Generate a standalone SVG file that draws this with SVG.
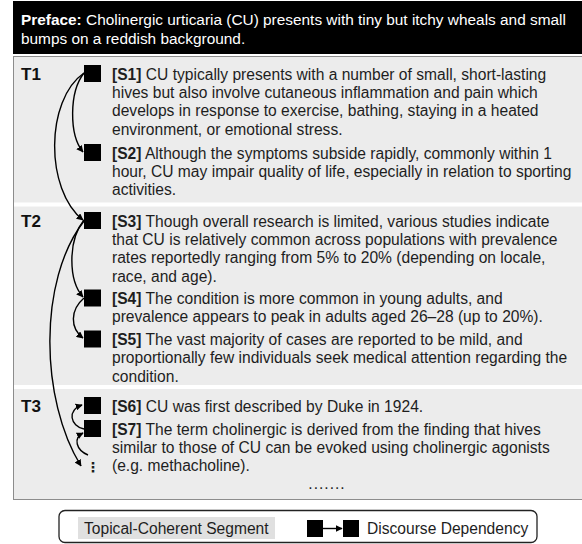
<svg xmlns="http://www.w3.org/2000/svg" width="582" height="544" viewBox="0 0 582 544">
<defs>
<style>
.t{font-family:"Liberation Sans",Arial,Helvetica,sans-serif;font-size:15.6px;fill:#1e1e1e}
.b{font-weight:bold}
.h{font-family:"Liberation Sans",Arial,Helvetica,sans-serif;font-size:15.4px;fill:#fff}
.lab{font-family:"Liberation Sans",Arial,Helvetica,sans-serif;font-size:17px;font-weight:bold;fill:#111}
.sq{fill:#000}
.c{fill:none;stroke:#000;stroke-width:1.4}
.sep{stroke:#fff;stroke-width:4}
</style>
<marker id="ah" viewBox="0 0 10 10" refX="9" refY="5" markerWidth="5" markerHeight="5" orient="auto" markerUnits="strokeWidth">
<path d="M0,0 L10,5 L0,10 z" fill="#000"/>
</marker>
</defs>
<rect width="582" height="544" fill="#fff"/>

<g id="preface">
<rect x="13" y="1" width="570" height="53" fill="#000"/>
<text class="h" x="21" y="25"><tspan class="b">Preface:</tspan> Cholinergic urticaria (CU) presents with tiny but itchy wheals and small</text>
<text class="h" x="21" y="43.5">bumps on a reddish background.</text>
</g>

<g id="segments">
<rect x="13.5" y="56.5" width="570" height="443" fill="#ececec" stroke="#8c8c8c" stroke-width="1"/>
<line class="sep" x1="14" y1="204.5" x2="582" y2="204.5"/>
<line class="sep" x1="14" y1="387" x2="582" y2="387"/>
<text class="lab" x="21" y="80">T1</text>
<text class="lab" x="21" y="227">T2</text>
<text class="lab" x="21" y="412">T3</text>
</g>

<g id="S1">
<rect class="sq" x="84" y="65" width="17" height="17"/>
<text class="t" x="112" y="79.5"><tspan class="b">[S1]</tspan> CU typically presents with a number of small, short-lasting</text>
<text class="t" x="112" y="97.9">hives but also involve cutaneous inflammation and pain which</text>
<text class="t" x="112" y="116.3">develops in response to exercise, bathing, staying in a heated</text>
<text class="t" x="112" y="134.7">environment, or emotional stress.</text>
</g>
<g id="S2">
<rect class="sq" x="84" y="144" width="17" height="17"/>
<text class="t" x="112" y="158.5"><tspan class="b">[S2]</tspan> Although the symptoms subside rapidly, commonly within 1</text>
<text class="t" x="112" y="176.9">hour, CU may impair quality of life, especially in relation to sporting</text>
<text class="t" x="112" y="195.3">activities.</text>
</g>
<g id="S3">
<rect class="sq" x="84" y="212" width="17" height="17"/>
<text class="t" x="112" y="226.5"><tspan class="b">[S3]</tspan> Though overall research is limited, various studies indicate</text>
<text class="t" x="112" y="244.9">that CU is relatively common across populations with prevalence</text>
<text class="t" x="112" y="263.3">rates reportedly ranging from 5% to 20% (depending on locale,</text>
<text class="t" x="112" y="281.7">race, and age).</text>
</g>
<g id="S4">
<rect class="sq" x="84" y="289.5" width="17" height="17"/>
<text class="t" x="112" y="304"><tspan class="b">[S4]</tspan> The condition is more common in young adults, and</text>
<text class="t" x="112" y="322.4">prevalence appears to peak in adults aged 26–28 (up to 20%).</text>
</g>
<g id="S5">
<rect class="sq" x="84" y="330.5" width="17" height="17"/>
<text class="t" x="112" y="345"><tspan class="b">[S5]</tspan> The vast majority of cases are reported to be mild, and</text>
<text class="t" x="112" y="363.4">proportionally few individuals seek medical attention regarding the</text>
<text class="t" x="112" y="381.8">condition.</text>
</g>
<g id="S6">
<rect class="sq" x="84" y="397" width="17" height="17"/>
<text class="t" x="112" y="411.5"><tspan class="b">[S6]</tspan> CU was first described by Duke in 1924.</text>
</g>
<g id="S7">
<rect class="sq" x="84" y="420" width="17" height="17"/>
<text class="t" x="112" y="434.5"><tspan class="b">[S7]</tspan> The term cholinergic is derived from the finding that hives</text>
<text class="t" x="112" y="452.9">similar to those of CU can be evoked using cholinergic agonists</text>
<text class="t" x="112" y="471.3">(e.g. methacholine).</text>
</g>
<g id="more">
<text class="t b" x="93" y="472" text-anchor="middle" style="font-family:'DejaVu Sans',sans-serif;font-size:14px">⋮</text>
<text class="t" x="327" y="489" text-anchor="middle" letter-spacing="1">.......</text>
</g>

<g id="connectors">
<path class="c" d="M84,73 C69,92 69,135 83,152" marker-end="url(#ah)"/>
<path class="c" d="M84,73 C45,100 45,190 83,220" marker-end="url(#ah)"/>
<path class="c" d="M84,220 C68,240 68,280 83,297" marker-end="url(#ah)"/>
<path class="c" d="M84,298 C70,310 70,328 83,338" marker-end="url(#ah)"/>
<path class="c" d="M84,221 C38,280 40,400 81,466" marker-end="url(#ah)"/>
<path class="c" d="M84,429 C70,426 67,410 82,405" marker-end="url(#ah)"/>
<path class="c" d="M88,455 C76,450 73,438 83,433" marker-end="url(#ah)"/>
</g>

<g id="legend">
<rect x="59" y="510.5" width="478" height="32" rx="6" fill="#fff" stroke="#222" stroke-width="1.3"/>
<rect x="78" y="517" width="197" height="22" fill="#e0e0e0"/>
<text class="t" x="84" y="533.5">Topical-Coherent Segment</text>
<rect class="sq" x="307" y="520" width="16" height="17"/>
<line x1="323" y1="528.5" x2="342" y2="528.5" stroke="#000" stroke-width="1.4" marker-end="url(#ah)"/>
<rect class="sq" x="343" y="520" width="16" height="17"/>
<text class="t" x="367" y="533.5">Discourse Dependency</text>
</g>
</svg>
